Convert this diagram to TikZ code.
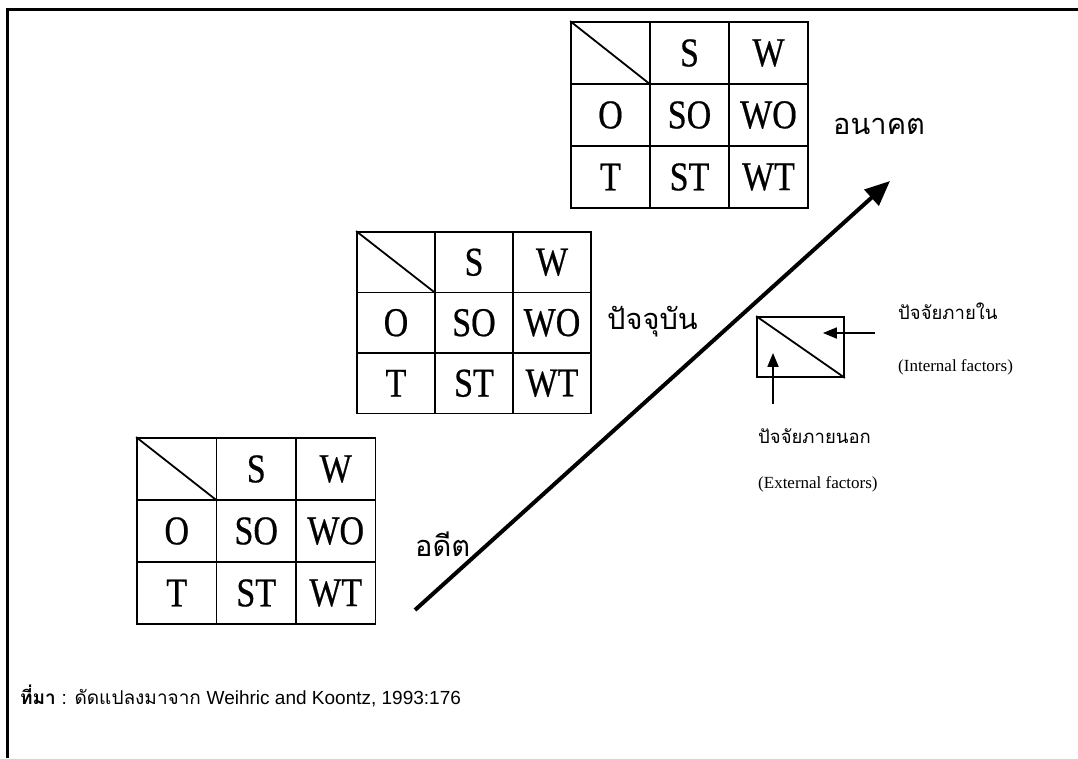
\documentclass[tikz,border=0pt]{standalone}
\usepackage{fontspec}
\usetikzlibrary{arrows.meta}
\newfontfamily\tabfont[FakeBold=0.6]{Liberation Serif}
\newfontfamily\thaifont[Script=Thai]{Loma}
\newfontfamily\latinsans{Liberation Sans}
\newfontfamily\smallserif{Liberation Serif}
\tikzset{
  frameline/.style={line width=3pt},
  cell/.style={draw, line width=1.8pt, inner sep=0pt,
    font=\tabfont\fontsize{34}{34}\selectfont},
  thailabel/.style={font=\thaifont\fontsize{29}{32}\selectfont, inner sep=0pt, anchor=west},
  thaismall/.style={font=\thaifont\fontsize{18.5}{22}\selectfont, inner sep=0pt, anchor=west},
  engsmall/.style={font=\smallserif\fontsize{17}{19}\selectfont, inner sep=0pt, anchor=west},
  timearrow/.style={line width=4pt, -{Triangle[length=25pt,width=21pt]}},
  factorarrow/.style={line width=1.8pt, -{Triangle[length=14pt,width=11pt]}},
}
% #1 name, #2 left x, #3 top y, #4 column width, #5 row height
\newcommand{\swottab}[5]{%
  \foreach \a/\b/\c [count=\i from 0] in {{}/S/W,O/SO/WO,T/ST/WT}{
    \node[cell, minimum width=#4 pt, minimum height=#5 pt] (#1-\i-0) at ({#2+#4/2},{#3+#5*\i+#5/2}) {\scalebox{1}[1.2]{\a}};
    \node[cell, minimum width=#4 pt, minimum height=#5 pt] (#1-\i-1) at ({#2+1.5*#4},{#3+#5*\i+#5/2}) {\scalebox{1}[1.2]{\b}};
    \node[cell, minimum width=#4 pt, minimum height=#5 pt] (#1-\i-2) at ({#2+2.5*#4},{#3+#5*\i+#5/2}) {\scalebox{1}[1.2]{\c}};
  }
  \draw[line width=1.8pt] (#1-0-0.north west) -- (#1-0-0.south east);
}
\begin{document}
\begin{tikzpicture}[x=1pt,y=-1pt]
\useasboundingbox (0,0) rectangle (1078,758);
% frame
\coordinate (ftl) at (7,9);
\coordinate (ftr) at (1078,9);
\coordinate (fbl) at (7,758);
\draw[frameline] (ftr) -- (ftl) -- (fbl);
% tables
\swottab{past}{137}{438}{79.5}{62}
\swottab{now}{357}{232}{78}{60.5}
\swottab{fut}{571}{22}{79}{62}
% time arrow
\coordinate (ta0) at (415,610);
\coordinate (ta1) at (890,181);
\draw[timearrow] (ta0) -- (ta1);
% time labels
\node[thailabel] (lfut) at (833,126) {อนาคต};
\node[thailabel] (lnow) at (607,322) {ปัจจุบัน};
\node[thailabel] (lpast) at (415,544) {อดีต};
% factor box
\node[draw, line width=1.8pt, minimum width=87pt, minimum height=60pt, inner sep=0pt] (fb) at (800.5,347) {};
\draw[line width=1.8pt] (fb.north west) -- (fb.south east);
\coordinate (ia0) at (875,333);
\coordinate (ea0) at (773,404);
\draw[factorarrow] (ia0) -- (fb.east |- ia0) -- ++(-22,0);
\draw[factorarrow] (ea0) -- (fb.south -| ea0) -- ++(0,-25);
\node[thaismall] (lint) at (898,311) {ปัจจัยภายใน};
\node[engsmall] (lint2) at (898,367) {(Internal factors)};
\node[thaismall] (lext) at (758,436) {ปัจจัยภายนอก};
\node[engsmall] (lext2) at (758,484) {(External factors)};
% source
\node[anchor=west, inner sep=0pt, font=\fontsize{19}{22}\selectfont] (src) at (20,696)
  {{\thaifont\bfseries ที่มา} {\latinsans :} {\thaifont ดัดแปลงมาจาก} {\latinsans Weihric and Koontz, 1993:176}};
\end{tikzpicture}
\end{document}
